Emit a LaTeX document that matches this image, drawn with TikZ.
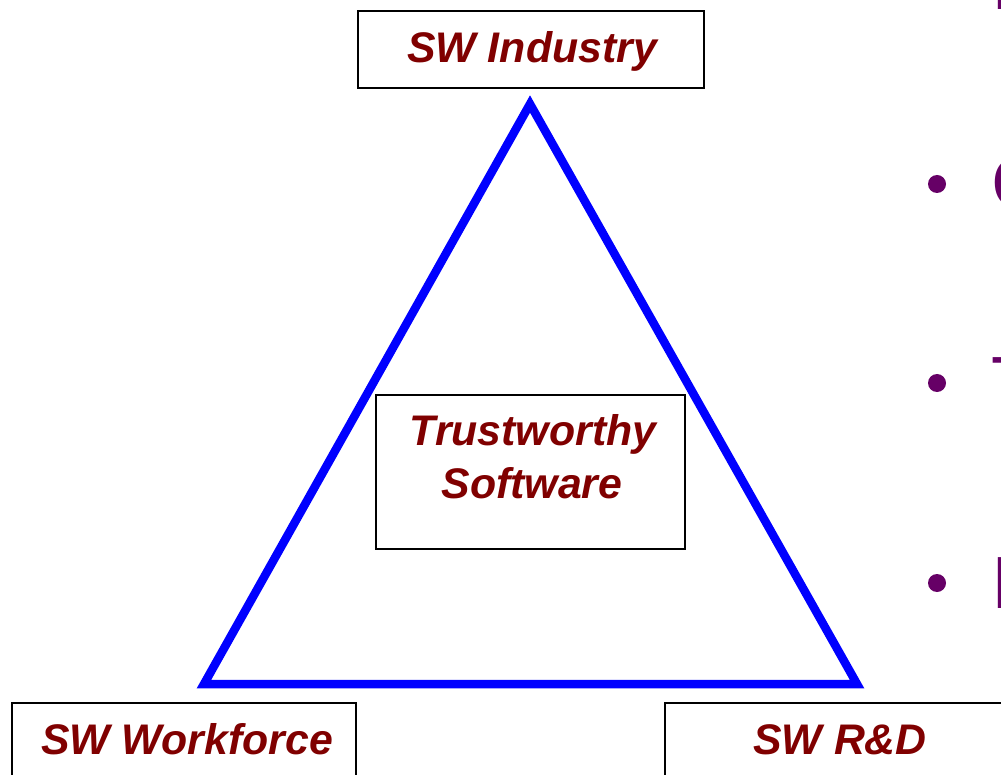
\documentclass[tikz,border=0pt]{standalone}
\usepackage{fontspec}
\setmainfont{Liberation Sans}
\definecolor{lblc}{HTML}{800000}
\definecolor{bulc}{HTML}{660066}
\definecolor{tric}{HTML}{0000FF}
\begin{document}
\begin{tikzpicture}[x=1pt,y=-1pt,
  box/.style={draw=black, line width=2pt, fill=white, rectangle, inner sep=0pt, anchor=north west},
  lbl/.style={text=lblc, font=\fontsize{42.8}{50}\selectfont\bfseries\itshape, inner sep=0pt, anchor=base},
  tri/.style={draw=tric, line width=8.5pt, miter limit=10},
  bullet/.style={circle, fill=bulc, inner sep=0pt, minimum size=18pt},
  frag/.style={text=bulc, font=\fontsize{74}{80}\selectfont, inner sep=0pt, anchor=base west}]
\useasboundingbox (0,0) rectangle (1001,775);
% triangle
\coordinate (apex) at (530,104);
\coordinate (bl) at (204,684);
\coordinate (br) at (857,684);
\draw[tri] (apex) -- (bl) -- (br) -- cycle;
% boxes
\node[box, minimum width=346pt, minimum height=77pt] (indbox) at (357,10) {};
\node[box, minimum width=309pt, minimum height=154pt] (tsbox) at (375,394) {};
\node[box, minimum width=344pt, minimum height=120pt] (wfbox) at (11,702) {};
\node[box, minimum width=400pt, minimum height=120pt] (rdbox) at (664,702) {};
% labels
\node[lbl] (ind) at (532,63) {SW Industry};
\node[lbl] (ts1) at (533,445) {Trustworthy};
\node[lbl] (ts2) at (532,498) {Software};
\node[lbl] (wf) at (187,754) {SW Workforce};
\node[lbl] (rd) at (840,754) {SW R\&D};
% bullets and cut-off text at the right edge
\node[bullet] (b1) at (937,184) {};
\node[bullet] (b2) at (937,383) {};
\node[bullet] (b3) at (937,583) {};
\node[frag] (f0) at (991,10) {I};
\node[frag] (f1) at (991,209) {C};
\node[frag] (f2) at (991,408) {T};
\node[frag] (f3) at (991,608) {I};
\end{tikzpicture}
\end{document}
